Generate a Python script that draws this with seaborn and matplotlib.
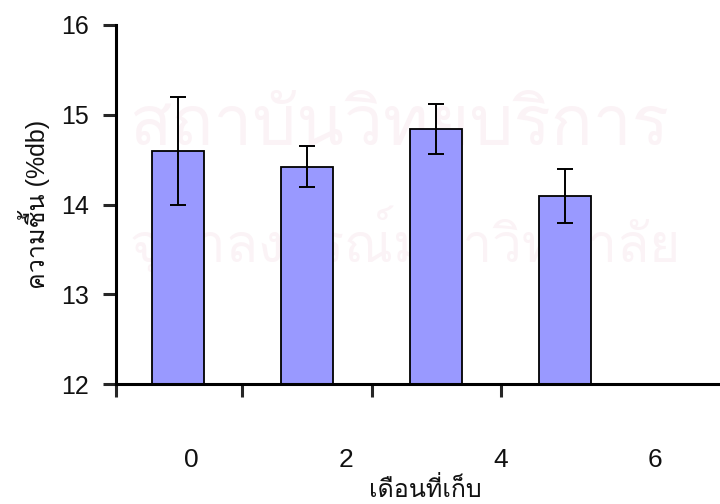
import matplotlib
matplotlib.use("Agg")
import matplotlib.pyplot as plt
from matplotlib import font_manager
from matplotlib.ft2font import FT2Font
import seaborn as sns
import pandas as pd

# data
months = ["0", "2", "4", "6"]
moisture = [14.60, 14.42, 14.84, 14.09]
sd = [0.60, 0.23, 0.28, 0.30]

# find an installed font that can draw Thai
thai_font = None
for f in font_manager.fontManager.ttflist:
    try:
        if 0x0E40 in FT2Font(f.fname).get_charmap():
            thai_font = f.name
            break
    except Exception:
        pass

installed = {f.name for f in font_manager.fontManager.ttflist}
base = "Liberation Sans Narrow" if "Liberation Sans Narrow" in installed else "Liberation Sans"

sns.set_theme(style="ticks")
fams = [base, "DejaVu Sans"]
if thai_font:
    fams.insert(1, thai_font)
plt.rcParams["font.family"] = fams

df = pd.DataFrame({"month": months, "moisture": moisture, "sd": sd})

fig = plt.figure(figsize=(7.2, 5.04), dpi=100)
W, H = 720, 504
ax = fig.add_axes([116 / W, 1 - 384 / H, (W - 116) / W, (384 - 25) / H])

# very faint watermark, kept right of the axis texts
fig.text(130 / W, 1 - 145 / H, "สถาบันวิทยบริการ", fontsize=50, color="#fbf3f6",
         zorder=-5, family=fams)
fig.text(130 / W, 1 - 262 / H, "จุฬาลงกรณ์มหาวิทยาลัย", fontsize=38, color="#fbf3f6",
         zorder=-5, family=fams)
ax.patch.set_alpha(0)

sns.barplot(data=df, x="month", y="moisture", color="#9999ff", saturation=1,
            width=0.4, edgecolor="black", linewidth=1.3, errorbar=None, ax=ax)
ax.errorbar(range(len(months)), df["moisture"], yerr=df["sd"], fmt="none",
            ecolor="black", elinewidth=1.4, capsize=5.5, capthick=1.4)

ax.set_ylim(12, 16)
ax.set_xlim(-0.48, 4.2)
ax.set_yticks([12, 13, 14, 15, 16])
ax.tick_params(axis="y", direction="out", length=9.5, width=2.2, labelsize=18,
               pad=10, labelcolor="#111111")
# category boundary ticks on the x axis, no labels there
ax.set_xticks([-0.48, 0.5, 1.5, 2.5])
ax.set_xticklabels([])
ax.tick_params(axis="x", direction="out", length=9.5, width=2.2)
for s in ["left", "bottom"]:
    ax.spines[s].set_linewidth(2.2)
    ax.spines[s].set_color("black")
sns.despine(ax=ax, top=True, right=True)
ax.set_xlabel("")
ax.set_ylabel("ความชื้น (%db)", fontsize=18, labelpad=8, color="#111111")

# month labels sit lower and spaced wider than the bars
ax2 = ax.twiny()
ax2.set_position(ax.get_position())
ax2.set_xlim(-0.49, 3.42)
ax2.xaxis.set_ticks_position("bottom")
ax2.set_xticks(range(len(months)))
ax2.set_xticklabels(months, fontsize=19, color="#111111")
ax2.tick_params(axis="x", length=0, pad=46)
for s in ax2.spines.values():
    s.set_visible(False)
ax2.patch.set_alpha(0)

fig.text((116 + 720) / 2 / W + 0.01, 1 - 502 / H, "เดือนที่เก็บ", fontsize=18,
         ha="center", va="bottom", family=fams, color="#111111")

fig.savefig("out.png", dpi=100)
